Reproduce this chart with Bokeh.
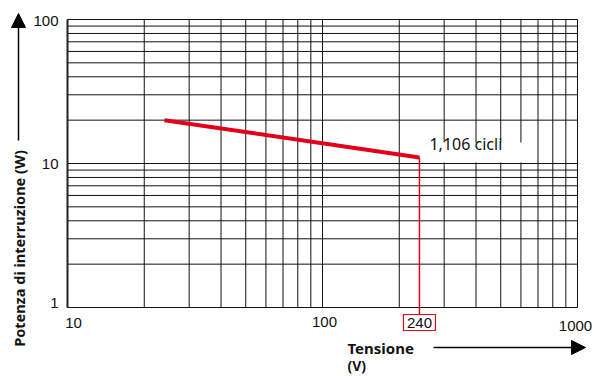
import math
from bokeh.plotting import figure
from bokeh.models import Arrow, NormalHead, Range1d
from bokeh.core.properties import value
from bokeh.embed import file_html
from bokeh.resources import INLINE

# ---- data ----
x_grid = [10, 20, 30, 40, 50, 60, 70, 80, 90, 100, 200, 300, 400, 500, 600, 700, 800, 900, 1000]
y_grid = [1, 2, 3, 4, 5, 6, 7, 8, 9, 10, 20, 30, 40, 50, 60, 70, 80, 90, 100]
x_ticks = [10, 100, 240, 1000]
x_tick_labels = ["10", "100", "240", "1000"]
y_ticks = [1, 10, 100]
y_tick_labels = ["1", "10", "100"]
volts = [24, 240]
power = [20, 11]
marker_v = 240
marker_p = 11
cycles_label = "1,106 cicli"
x_title = "Tensione"
x_unit = "(V)"
y_title = "Potenza di interruzione (W)"

RED = "#e2001a"
INK = "#111111"
W, H = 594, 376
L, R, T, B = 67, 577, 19, 307   # plot box in pixels


def fx(px):
    return 10 ** (1 + 2 * (px - L) / (R - L))


def fy(py):
    return 10 ** (2 * (B - py) / (B - T))


def nx(v, dpx):
    return v * 10 ** (2 * dpx / (R - L))


def ny(v, dpx):  # dpx positive = down
    return v * 10 ** (-2 * dpx / (B - T))


p = figure(width=W, height=H, x_axis_type="log", y_axis_type="log",
           x_range=Range1d(fx(0), fx(W)), y_range=Range1d(fy(H), fy(0)),
           output_backend="svg", toolbar_location=None,
           min_border_left=0, min_border_right=0, min_border_top=0, min_border_bottom=0)
p.xaxis.visible = False
p.yaxis.visible = False
p.xgrid.visible = False
p.ygrid.visible = False
p.outline_line_color = None
p.title.visible = False
p.background_fill_color = "white"
p.border_fill_color = "white"

x_lo, x_hi = x_grid[0], x_grid[-1]
y_lo, y_hi = y_grid[0], y_grid[-1]

# grid
p.segment(x0=x_grid, y0=[y_lo] * len(x_grid), x1=x_grid, y1=[y_hi] * len(x_grid),
          line_color=INK, line_width=1)
p.segment(x0=[x_lo] * len(y_grid), y0=y_grid, x1=[x_hi] * len(y_grid), y1=y_grid,
          line_color=INK, line_width=1)
# heavier left edge
p.segment(x0=[x_lo], y0=[y_lo], x1=[x_lo], y1=[y_hi], line_color="#222222", line_width=2)

# white patch behind cycles label
p.rect(x=[nx(marker_v, 61)], y=[ny(marker_p, -5)], width=108, height=20,
       width_units="screen", height_units="screen",
       fill_color="white", line_color=None)

p.line(volts, power, line_color=RED, line_width=4)

# vertical marker line down to the 240 label
p.segment(x0=[marker_v], y0=[marker_p], x1=[marker_v], y1=[ny(y_lo, 7)],
          line_color=RED, line_width=1.5)

p.text(x=[nx(marker_v, 10)], y=[ny(marker_p, -3)], text=[cycles_label],
       text_font=value("Noto Sans"), text_font_size="16px", text_color=INK,
       text_align="left", text_baseline="bottom")

# x tick labels
x_nudges = {"10": (6, 15), "100": (2, 14), "240": (0, 15), "1000": (-2, 18)}
for v, t in zip(x_ticks, x_tick_labels):
    dx, dy = x_nudges[t]
    if t == "240":
        p.rect(x=[nx(v, dx)], y=[ny(y_lo, dy)], width=32, height=16,
               width_units="screen", height_units="screen",
               fill_color=None, line_color=RED, line_width=1.2)
    p.text(x=[nx(v, dx)], y=[ny(y_lo, dy)], text=[t],
           text_font=value("Liberation Sans"), text_font_size="15px", text_color=INK,
           text_align="center", text_baseline="middle")

# y tick labels
y_nudges = {"1": -5, "10": 0, "100": 1}
for v, t in zip(y_ticks, y_tick_labels):
    p.text(x=[fx(58)], y=[ny(v, y_nudges[t])], text=[t],
           text_font=value("Liberation Sans"), text_font_size="15px", text_color=INK,
           text_align="right", text_baseline="middle")

# axis titles
p.text(x=[fx(18)], y=[fy(248)], text=[y_title], angle=math.pi / 2,
       text_font=value("Noto Sans"), text_font_style="bold", text_font_size="14.5px",
       text_color=INK, text_align="center", text_baseline="middle")
p.text(x=[fx(347)], y=[fy(347)], text=[x_title],
       text_font=value("Noto Sans"), text_font_style="bold", text_font_size="15px",
       text_color=INK, text_align="left", text_baseline="middle")
p.text(x=[fx(347)], y=[fy(365)], text=[x_unit],
       text_font=value("Noto Sans"), text_font_style="bold", text_font_size="14px",
       text_color=INK, text_align="left", text_baseline="middle")

# axis arrows
p.add_layout(Arrow(end=NormalHead(size=14, fill_color="black", line_color="black"),
                   x_start=fx(18), y_start=fy(140), x_end=fx(18), y_end=fy(13),
                   line_color="black", line_width=1.5))
p.add_layout(Arrow(end=NormalHead(size=14, fill_color="black", line_color="black"),
                   x_start=fx(433), y_start=fy(347), x_end=fx(585), y_end=fy(347),
                   line_color="black", line_width=1.5))

open("out.html", "w").write(file_html(p, INLINE))
